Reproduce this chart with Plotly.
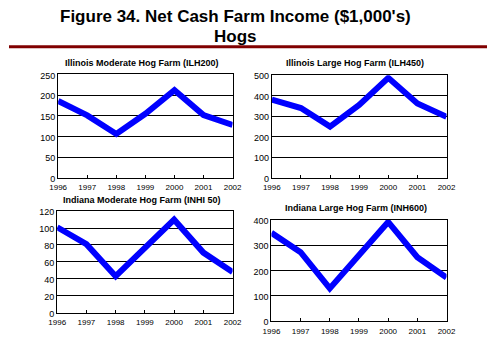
import plotly.graph_objects as go

years = [1996, 1997, 1998, 1999, 2000, 2001, 2002]
year_labels = ["1996", "1997", "1998", "1999", "2000", "2001", "2002"]

ilh200 = [186, 151, 106, 155, 212, 152, 128]
ilh450 = [381, 340, 250, 355, 487, 362, 297]
inh150 = [101, 81, 43, 77, 110, 71, 48]
inh600 = [349, 273, 130, 260, 392, 253, 173]

titles = ["Illinois Moderate Hog Farm (ILH200)", "Illinois Large Hog Farm (ILH450)",
          "Indiana Moderate Hog Farm (INHI 50)", "Indiana Large Hog Farm (INH600)"]
series = [ilh200, ilh450, inh150, inh600]
y_ranges = [(0, 250, 50), (0, 500, 100), (0, 120, 20), (0, 400, 100)]

W, H = 496, 349
# pixel boxes: x0, x1, ytop, ybottom
boxes = [(51, 232, 72.5, 179), (272.7, 454, 73.3, 179),
         (50, 232, 213.3, 317.7), (272.3, 454, 222.3, 326.7)]
title_pos = [(137.5, 61), (359, 61), (137.5, 202), (360, 210)]

fig = go.Figure()
font_family = "Liberation Sans, Arial, sans-serif"
for i in range(4):
    ax = "" if i == 0 else str(i + 1)
    fig.add_trace(go.Scatter(x=years, y=series[i], mode="lines",
                             line=dict(color="#0000FF", width=6),
                             xaxis="x" + ax, yaxis="y" + ax, showlegend=False))
    x0, x1, yt, yb = boxes[i]
    lo, hi, dt = y_ranges[i]
    fig.update_layout(**{
        "xaxis" + ax: dict(domain=[x0 / W, x1 / W], range=[1996, 2002],
                           tickvals=years, ticktext=year_labels,
                           showgrid=False, zeroline=False, showline=True, mirror=True,
                           linecolor="black", linewidth=1, ticks="inside", ticklen=3,
                           tickcolor="black", ticklabelstandoff=2,
                           tickfont=dict(family=font_family, size=8, color="black"),
                           anchor="y" + ax, fixedrange=True),
        "yaxis" + ax: dict(domain=[1 - yb / H, 1 - yt / H], range=[lo, hi], dtick=dt,
                           showgrid=True, gridcolor="black", gridwidth=1, zeroline=False,
                           showline=True, mirror=True, linecolor="black", linewidth=1,
                           ticks="", ticklabelshift=1,
                           tickfont=dict(family=font_family, size=9, color="black"),
                           anchor="x" + ax, fixedrange=True),
    })
    tx, ty = title_pos[i]
    fig.add_annotation(x=tx / W, y=1 - ty / H, xref="paper", yref="paper",
                       text="<b>" + titles[i] + "</b>", showarrow=False,
                       font=dict(family=font_family, size=9, color="black"),
                       xanchor="center", yanchor="middle")

fig.add_annotation(x=235 / W, y=1 - 13 / H, xref="paper", yref="paper",
                   text="<b>Figure 34. Net Cash Farm Income ($1,000's)</b>",
                   showarrow=False, xanchor="center", yanchor="middle", borderpad=0,
                   font=dict(family=font_family, size=17, color="black"))
fig.add_annotation(x=235 / W, y=1 - 33 / H, xref="paper", yref="paper",
                   text="<b>Hogs</b>",
                   showarrow=False, xanchor="center", yanchor="middle", borderpad=0,
                   font=dict(family=font_family, size=17, color="black"))
fig.add_shape(type="line", xref="paper", yref="paper", x0=0, x1=1,
              y0=1 - 44 / H, y1=1 - 44 / H, line=dict(color="#800000", width=3))

fig.update_layout(width=W, height=H, margin=dict(l=0, r=0, t=0, b=0),
                  paper_bgcolor="white", plot_bgcolor="white")
fig.write_html("out.html")
